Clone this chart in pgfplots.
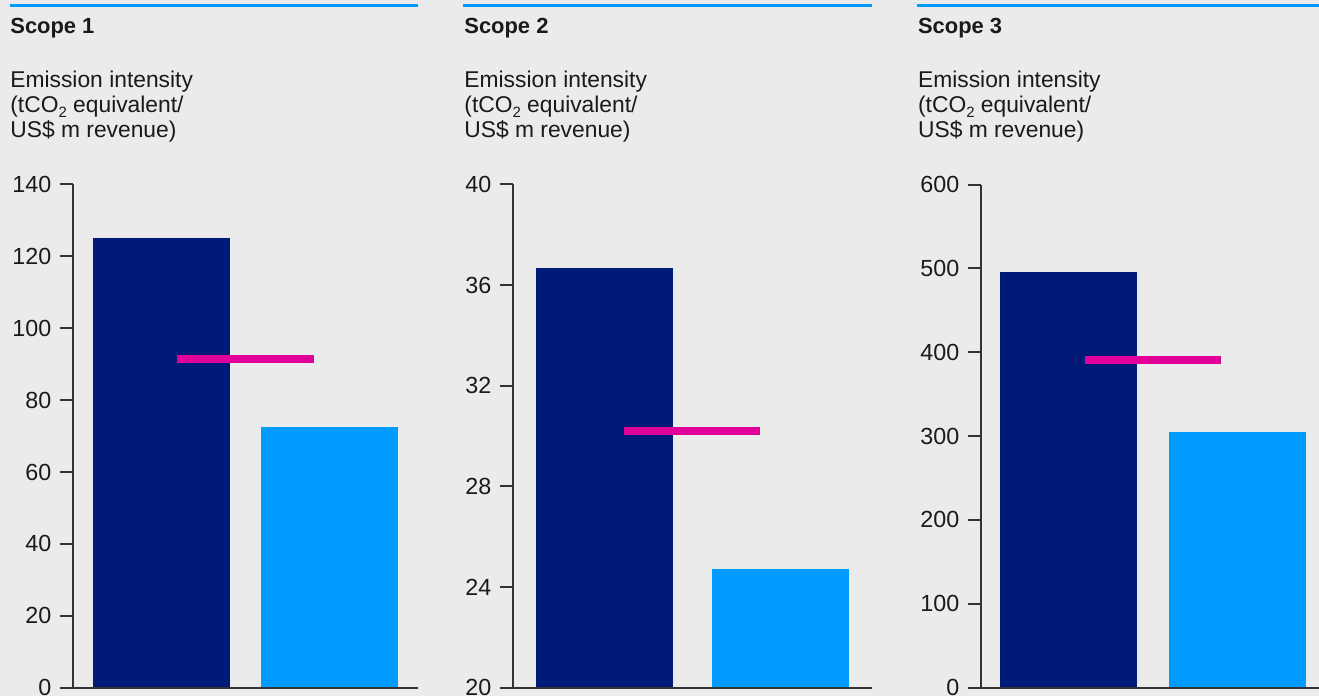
\documentclass[border=0pt]{standalone}
\usepackage{fontspec}
\setmainfont{Liberation Sans}
\usepackage{pgfplots}
\pgfplotsset{compat=1.18}
\definecolor{bg}{HTML}{EBEBEB}
\definecolor{navy}{HTML}{001A78}
\definecolor{sky}{HTML}{009BFF}
\definecolor{pink}{HTML}{E1009A}
\definecolor{axc}{HTML}{333333}
\definecolor{txt}{HTML}{1A1A1A}
\newcommand{\fs}{\fontsize{11}{13}\selectfont}
\newcommand{\fss}{\fontsize{11.45}{13}\selectfont}
\newcommand{\fst}{\fontsize{11.7}{13}\selectfont}
\pgfplotsset{panel/.style={
  scale only axis, height=251.6bp, anchor=south west,
  axis x line*=bottom, axis y line*=left,
  axis line style={-, axc, line width=1bp},
  xtick=\empty, tick align=outside, major tick length=6.5bp,
  major tick style={axc, line width=1bp},
  yticklabel style={font=\fst, text=txt, inner sep=4bp},
  /pgf/number format/assume math mode=true,
  axis on top=true,
}}
\begin{document}
\begin{tikzpicture}
\useasboundingbox (0,0) rectangle (659.5bp,348bp);
\fill[bg] (0,0) rectangle (659.5bp,348bp);
% top rules
\draw[sky, line width=1.25bp] (5bp,345.25bp) -- (208.85bp,345.25bp);
\draw[sky, line width=1.25bp] (231.65bp,345.25bp) -- (435.85bp,345.25bp);
\draw[sky, line width=1.25bp] (458.5bp,345.25bp) -- (659.5bp,345.25bp);
% titles
\foreach \x/\t in {5/1, 232/2, 458.85/3}{
  \node[anchor=base west, inner sep=0pt, text=txt, font=\fs\bfseries] at (\x bp,331.35bp) {Scope \t};
  \node[anchor=base west, inner sep=0pt, text=txt, font=\fss] at (\x bp,304.35bp) {Emission intensity};
  \node[anchor=base west, inner sep=0pt, text=txt, font=\fss] at (\x bp,291.75bp) {(tCO\raisebox{-0.4ex}{\fontsize{7.5}{9}\selectfont 2} equivalent/};
  \node[anchor=base west, inner sep=0pt, text=txt, font=\fss] at (\x bp,279.1bp) {US\$ m revenue)};
}
% Scope 1
\begin{axis}[panel, at={(36.35bp,4.15bp)}, width=172.5bp,
  xmin=-0.529, xmax=1.526, ymin=0, ymax=140, ytick={0,20,...,140}]
\addplot[ybar, bar shift=0pt, bar width=68.5bp, fill=navy, draw=none] coordinates {(0,125.1)};
\addplot[ybar, bar shift=0pt, bar width=68.5bp, fill=sky, draw=none] coordinates {(1,72.5)};
\addplot[pink, line width=4bp] coordinates {(0.094,91.4) (0.907,91.4)};
\end{axis}
% Scope 2
\begin{axis}[panel, at={(256.35bp,4.15bp)}, width=179.5bp,
  xmin=-0.520, xmax=1.518, ymin=20, ymax=40, ytick={20,24,...,40}]
\addplot[ybar, bar shift=0pt, bar width=68.5bp, fill=navy, draw=none] coordinates {(0,36.68)};
\addplot[ybar, bar shift=0pt, bar width=68.5bp, fill=sky, draw=none] coordinates {(1,24.72)};
\addplot[pink, line width=4bp] coordinates {(0.112,30.19) (0.884,30.19)};
\end{axis}
% Scope 3
\begin{axis}[panel, at={(490.35bp,4.15bp)}, width=169.15bp,
  xmin=-0.520, xmax=1.482, ymin=0, ymax=600, ytick={0,100,...,600}]
\addplot[ybar, bar shift=0pt, bar width=68.5bp, fill=navy, draw=none] coordinates {(0,495.7)};
\addplot[ybar, bar shift=0pt, bar width=68.5bp, fill=sky, draw=none] coordinates {(1,304.9)};
\addplot[pink, line width=4bp] coordinates {(0.098,390.4) (0.902,390.4)};
\end{axis}
\end{tikzpicture}
\end{document}
